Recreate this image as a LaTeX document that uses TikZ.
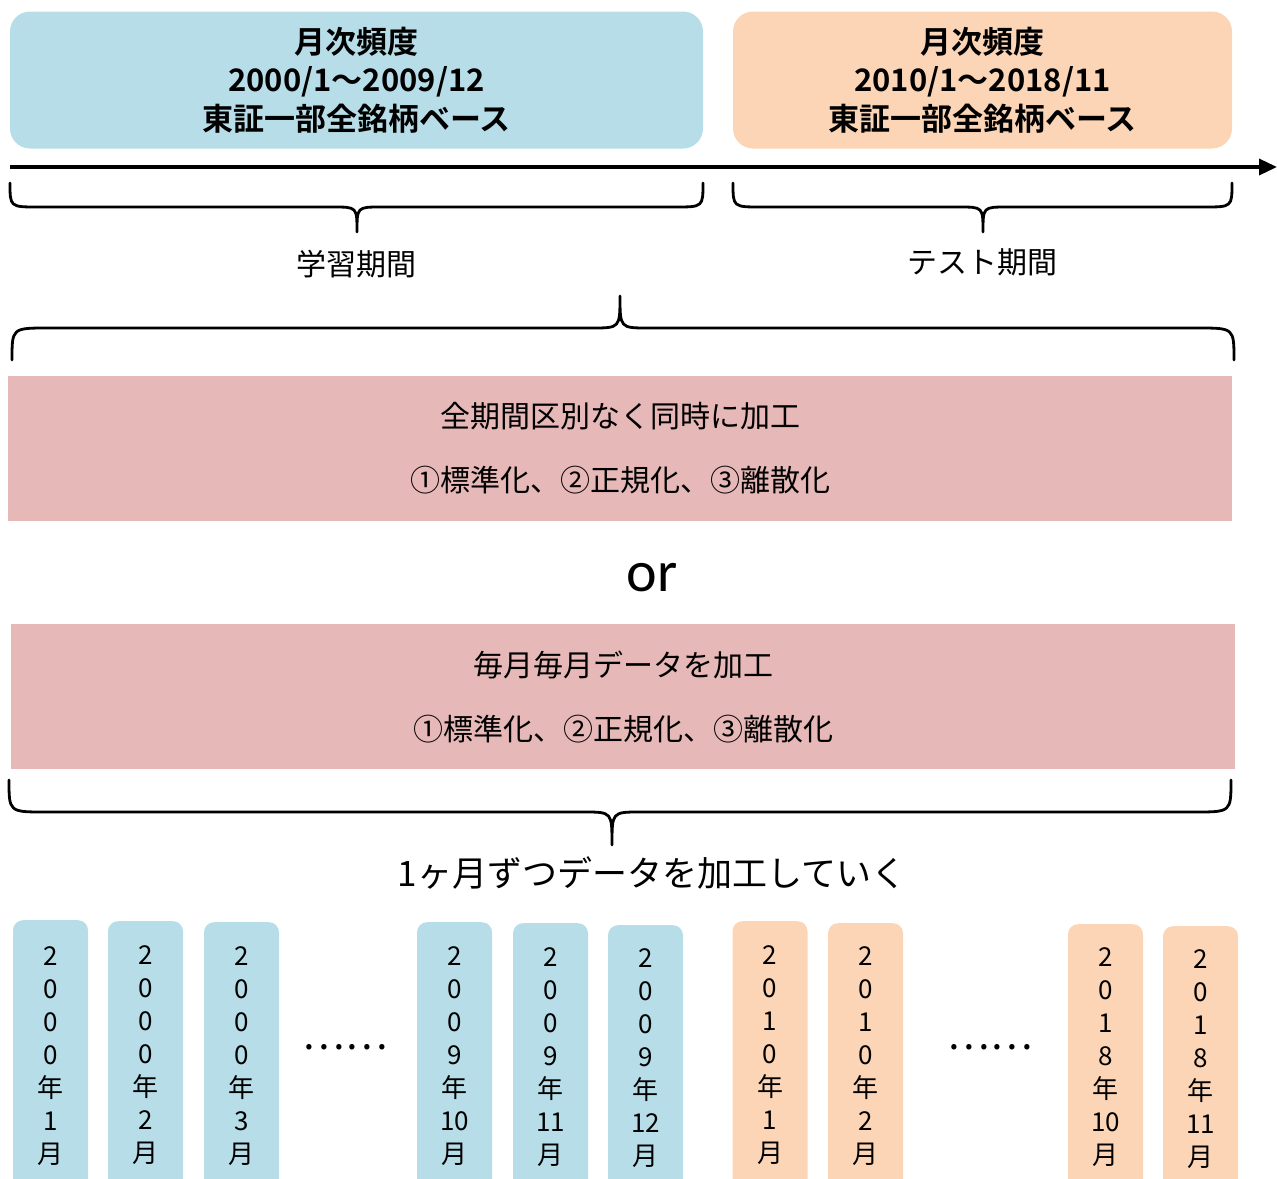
\documentclass[tikz,border=0pt]{standalone}
\usepackage{fontspec}
\setmainfont{Noto Sans CJK JP}[BoldFont={Noto Sans CJK JP Bold}]
\newfontfamily\latinfont{Carlito}
\usetikzlibrary{arrows.meta}
\definecolor{lblue}{HTML}{B7DDE8}
\definecolor{lorange}{HTML}{FBD5B5}
\definecolor{lpink}{HTML}{E6B8B7}
\newcommand\mybrace[8]{%
  \draw[bracestyle] (#1,#4) .. controls (#1,#5) .. (#1+#7,#5) -- (#3-#8,#5)
    .. controls (#3,#5) .. (#3,#6) .. controls (#3,#5) .. (#3+#8,#5)
    -- (#2-#7,#5) .. controls (#2,#5) .. (#2,#4);}
\tikzset{
  topbox/.style={rounded corners=20pt, draw=none, align=center, inner sep=0pt,
    font={\fontsize{31}{38.5}\selectfont\bfseries}},
  pinkbox/.style={fill=lpink, draw=none, minimum width=1224pt, minimum height=145pt,
    align=center, inner sep=0pt, font={\fontsize{30}{64}\selectfont}},
  lbl/.style={font={\fontsize{30}{36}\selectfont}, inner sep=0pt},
  bracestyle/.style={line width=2.8pt, line cap=round, line join=round},
  mbox/.style={rounded corners=10pt, minimum width=75pt, minimum height=280pt,
    anchor=north, inner sep=0pt},
  mtext/.style={font={\fontsize{26}{33}\selectfont}, align=center, anchor=north, inner sep=0pt},
  dots/.style={font={\fontsize{40}{40}\selectfont}, inner sep=0pt}
}
\begin{document}
\begin{tikzpicture}[x=1pt,y=-1pt]
\useasboundingbox (0,0) rectangle (1277,1178);
\clip (0,0) rectangle (1277,1178);
% top boxes
\node[topbox, fill=lblue, minimum width=693pt, minimum height=137pt] (train) at (356.5,80)
  {月次頻度\\2000/1～2009/12\\東証一部全銘柄ベース};
\node[topbox, fill=lorange, minimum width=499pt, minimum height=137pt] (test) at (982.5,80)
  {月次頻度\\2010/1～2018/11\\東証一部全銘柄ベース};
% time axis
\coordinate (axs) at (10,167);
\coordinate (axe) at (1277,167);
\draw[line width=3.5pt, -{Triangle[length=18pt,width=16pt]}] (axs) -- (axe);
% braces
\mybrace{10}{703}{357}{183}{207}{232}{28}{24}
\mybrace{733}{1232}{983}{183}{207}{232}{28}{24}
\node[lbl] (trainlbl) at (356,264) {学習期間};
\node[lbl] (testlbl) at (982,262) {テスト期間};
\mybrace{12}{1234}{620}{360}{328}{296}{36}{28}
% processing boxes
\node[pinkbox] (all) at (620,448.5) {全期間区別なく同時に加工\\①標準化、②正規化、③離散化};
\node[font={\latinfont\fontsize{58}{60}\selectfont}, inner sep=0pt, anchor=base] (or) at (652,591) {or};
\node[pinkbox] (monthly) at (623,696.5) {毎月毎月データを加工\\①標準化、②正規化、③離散化};
\mybrace{9}{1231}{612}{780}{812}{845}{36}{28}
\node[font={\fontsize{35}{40}\selectfont}, inner sep=0pt] (each) at (652,873) {1ヶ月ずつデータを加工していく};
% monthly boxes
\node[mbox, fill=lblue] (m1) at (50.5,920) {};
\node[mtext] (t1) at (50.5,946) {2\\0\\0\\0\\年\\1\\月};
\node[mbox, fill=lblue] (m2) at (145.5,921) {};
\node[mtext] (t2) at (145.5,945) {2\\0\\0\\0\\年\\2\\月};
\node[mbox, fill=lblue] (m3) at (241.5,922) {};
\node[mtext] (t3) at (241.5,946) {2\\0\\0\\0\\年\\3\\月};
\node[dots] (d1) at (345,1047) {……};
\node[mbox, fill=lblue] (m4) at (454.5,922) {};
\node[mtext] (t4) at (454.5,946) {2\\0\\0\\9\\年\\10\\月};
\node[mbox, fill=lblue] (m5) at (550.5,923) {};
\node[mtext] (t5) at (550.5,947) {2\\0\\0\\9\\年\\11\\月};
\node[mbox, fill=lblue] (m6) at (645.5,925) {};
\node[mtext] (t6) at (645.5,948) {2\\0\\0\\9\\年\\12\\月};
\node[mbox, fill=lorange] (m7) at (770,921) {};
\node[mtext] (t7) at (770,945) {2\\0\\1\\0\\年\\1\\月};
\node[mbox, fill=lorange] (m8) at (865.5,923) {};
\node[mtext] (t8) at (865.5,946) {2\\0\\1\\0\\年\\2\\月};
\node[dots] (d2) at (990,1047) {……};
\node[mbox, fill=lorange] (m9) at (1105.5,924) {};
\node[mtext] (t9) at (1105.5,947) {2\\0\\1\\8\\年\\10\\月};
\node[mbox, fill=lorange] (m10) at (1200.5,926) {};
\node[mtext] (t10) at (1200.5,949) {2\\0\\1\\8\\年\\11\\月};
\end{tikzpicture}
\end{document}
